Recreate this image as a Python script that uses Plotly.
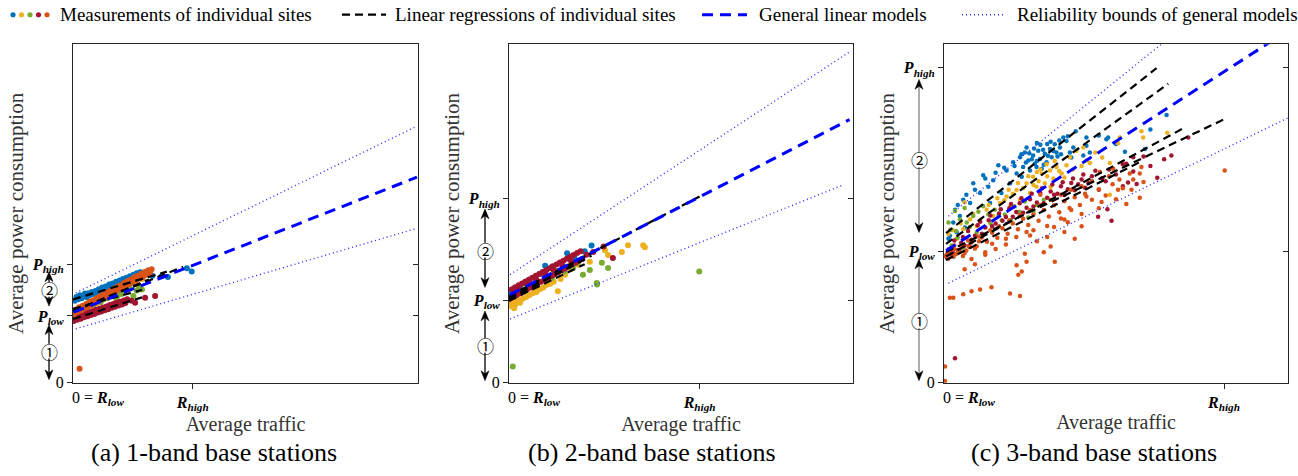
import plotly.graph_objects as go

W, H = 1298, 476
FONT = "Liberation Serif"
C_BLUE, C_ORANGE, C_YELLOW, C_GREEN, C_RED = "#0072BD", "#D95319", "#EDB120", "#77AC30", "#A2142F"

# ---------------- panel (a): 1-band base stations ----------------
a_blue_x = [0.5,1,1.5,2,2.5,3,3.5,4,4.5,5,5.5,6,6.5,7,7.5,8,8.5,9,9.5,10,10.5,11,11.5,12,12.5,13,13.5,14,14.5,15,15.5,16,16.5,17,17.5,18,18.5,19,19.5,20,21,22,23,25.7,27.5,33,34.4]
a_blue_y = [24.2,25.3,24.6,25.8,24.9,25.6,26.3,25.2,26.4,25.9,26.8,26.2,27.1,26.5,27.6,27.0,28.1,27.4,28.4,27.9,29.0,28.2,29.3,28.6,29.8,29.1,30.2,29.5,30.6,30.0,31.0,30.3,31.4,30.8,31.9,31.2,32.3,31.5,32.6,31.9,32.4,32.9,31.6,31.4,31.2,33.8,32.8]
a_yellow_x = [0.2,0.8,1.4,2,2.6,3.2,3.8,4.4,5,6,7,8,9,10,11,12.5,14,16,18,20]
a_yellow_y = [20.6,21.3,20.5,21.8,21.0,22.2,21.5,22.6,22.0,22.9,23.4,24.0,24.8,25.3,25.9,26.5,27.6,28.3,29.2,30.6]
a_green_x = [2,4,6,8,10,12.6,13,14,15.5,16.5,17.5,18.5,19.2,20]
a_green_y = [21.2,22.0,23.1,23.8,24.9,24.6,25.8,26.2,26.8,27.7,25.6,27.2,28.0,27.5]
a_red_x = [0.2,0.7,1.2,1.7,2.2,2.7,3.2,3.7,4.2,4.7,5.2,5.7,6.2,6.7,7.2,7.7,8.2,8.7,9.2,9.7,10.2,10.7,11.2,11.7,12.2,12.7,13.2,13.7,14.2,14.7,15.2,15.7,17,18,20.9,23.8]
a_red_y = [18.2,19.4,18.6,19.8,18.9,20.1,19.3,20.5,19.6,20.8,20.0,21.1,20.3,21.5,20.7,21.8,21.0,22.2,21.4,22.5,21.7,22.9,22.1,23.2,22.4,23.6,22.8,23.9,23.1,24.3,23.5,24.6,24.2,23.6,25.1,25.6]
a_orange_x = [0.3,0.8,1.3,1.8,2.3,2.8,3.3,3.8,4.3,4.8,5.3,5.8,6.3,6.8,7.3,7.8,8.3,8.8,9.3,9.8,10.3,10.8,11.3,11.8,12.3,12.8,13.3,13.8,14.3,14.8,15.3,15.8,16.3,16.8,17.3,17.8,18.3,18.8,19.3,19.8,20.3,20.8,21.3,21.8,22.3,22.8,5,10,15,20,1.9]
a_orange_y = [20.2,21.6,20.9,22.3,21.3,22.7,21.9,23.2,22.4,23.9,22.9,24.3,23.5,24.9,24.1,25.5,24.6,26.0,25.2,26.6,25.8,27.1,26.3,27.7,26.9,28.3,27.5,28.8,28.0,29.4,28.6,30.0,29.1,30.5,29.7,31.1,30.3,31.6,30.8,32.2,31.3,32.7,31.9,33.2,32.4,33.5,23.5,26.2,29.0,31.8,4.1]
a_fit_x0 = [0, 0, 0, 0, 0]
a_fit_y0 = [24.6, 21.0, 21.8, 18.8, 21.2]
a_fit_x1 = [27.2, 22.0, 20.0, 20.0, 31.9]
a_fit_y1 = [32.8, 30.5, 27.4, 25.2, 34.2]
a_gen_x, a_gen_y = [0.2, 99.7], [20.8, 60.7]
a_up_x, a_up_y = [0.8, 99.7], [26.5, 75.8]
a_lo_x, a_lo_y = [0.8, 99.7], [15.9, 45.6]
a_rhigh = 34.7
a_yticks = [0, 19.7, 34.9]

# ---------------- panel (b): 2-band base stations ----------------
b_blue_x = [0.5,1.5,3.2,6,9,12.5,14,16.9,19,22,24,4.5,10.5]
b_blue_y = [26.8,27.8,28.4,30.5,32.2,34.2,33.0,38.2,37.0,38.8,40.5,29.4,34.5]
b_yellow_x = [0.2,0.7,1.2,1.8,2.5,3.2,4,5,6,7,8,9,10,11,12,13,14.2,15,16.3,18,20,23.5,27.9,28.8,32.8,34.6,39,39.5,0.5,1.5]
b_yellow_y = [23.2,22.6,23.9,23.0,24.4,23.6,24.8,25.3,25.9,26.5,26.8,27.6,28.1,28.9,29.2,29.8,27.0,30.6,31.9,33.5,34.8,35.7,39.1,37.7,38.6,40.6,40.6,40.0,24.4,22.0]
b_green_x = [1.1,2.6,5,8,11,14,16,18.6,21.5,23.5,25.5,27,28.8,25.6,55.3,20,12.5]
b_green_y = [4.8,27.5,27.6,29.3,31.5,33.0,32.8,33.9,31.9,33.3,29.4,35.4,33.9,29.0,32.8,35.5,31.0]
b_red_x = [0.3,0.8,1.3,1.8,2.3,2.8,3.3,3.8,4.3,4.8,5.3,5.8,6.3,6.8,7.3,7.8,8.3,8.8,9.3,9.8,10.3,10.8,11.3,11.8,12.3,12.8,13.3,13.8,14.3,14.8,15.3,15.8,16.3,16.8,17.3,17.8,18.3,18.8,19.3,19.8,20.3,20.8,21.3,22.5,24.5,30.2,27.5,3,8,13,18,5.5,10.5,15.5]
b_red_y = [24.8,27.6,25.3,28.2,25.9,28.8,26.4,29.3,27.0,29.9,27.6,30.4,28.1,31.0,28.7,31.6,29.2,32.1,29.8,32.7,30.4,33.2,30.9,33.8,31.5,34.4,32.0,34.9,32.6,35.5,33.2,36.0,33.7,36.6,34.3,37.2,34.9,37.7,35.4,38.3,36.0,38.8,36.5,37.8,38.6,36.8,40.2,27.6,30.4,33.2,36.0,29.0,31.8,34.6]
b_fit_x0 = [0, 0, 0, 0]
b_fit_y0 = [25.6, 24.2, 25.0, 24.6]
b_fit_x1 = [55.4, 22.0, 28.0, 24.0]
b_fit_y1 = [55.0, 35.0, 40.5, 37.5]
b_gen_x, b_gen_y = [0.3, 99.0], [26.0, 77.7]
b_up_x, b_up_y = [0.3, 99.0], [31.9, 97.7]
b_lo_x, b_lo_y = [0.3, 97.1], [18.8, 58.4]
b_rhigh = 55.4
b_yticks = [0, 24.4, 54.3]

# ---------------- panel (c): 3-band base stations ----------------
c_blue_x = [1.7,2.7,3.2,4.6,5.6,7.6,8.5,10.5,11.4,12.9,14.3,15.8,16.7,18.2,19.2,20.1,21.1,22.1,23.0,23.5,24.5,25.0,25.9,26.4,27.4,27.9,28.4,29.3,29.8,30.8,31.3,32.2,32.7,33.7,34.7,35.6,36.6,37.6,24.0,26.9,22.6,13.4,41.4,47.7,47.2,41.4,52.6,58.4,64.7,40.5,42.4,1.3,3.7,6.1,38.3,25.5,27,28.8,30.2,31.8,26.2,24.8,29,33,23.8,28,31,
            4,6.5,9,12,15,17.5,20.5,22.5,33.5,36,30,27,34,37,45,50,60]
c_blue_y = [43.4,47.3,51.1,49.2,54.0,53.1,58.9,56.0,61.3,57.9,59.8,64.2,56.0,62.7,58.9,65.1,61.8,66.6,63.7,68.0,65.6,62.7,67.1,64.7,68.5,66.1,63.2,67.6,65.1,69.0,66.6,70.4,68.0,69.5,72.4,71.4,68.0,69.5,69.5,63.7,60.8,53.1,72.4,72.4,71.9,70.0,68.2,69.0,79.1,67.1,68.0,42.5,44.4,45.8,74.3,66.0,65.5,68.8,67.0,68.4,69.2,67.8,64.4,66.8,65.0,70.3,71.2,
            52.5,55.5,57.0,60.3,62.0,63.5,64.0,67.5,71.5,72.8,70.5,70.8,67.5,66.5,73.0,70.5,74.8]
c_yellow_x = [1.3,3.7,5.6,7.6,9.5,6.0,3.2,12.4,14.3,16.3,18.2,19.2,21.1,22.1,24.0,25.0,25.9,26.9,28.4,29.3,30.8,31.8,32.7,34.2,35.6,36.6,38.5,40.5,51.1,57.4,57.9,64.9,50.6,48.2,41.4,48.2,42.4,27.5,30,33.5,26,23,20,17.5,31,35,28,
              2.5,4.8,8.5,10.5,13,15.5,18.8,21.5,24.5,27,29.8,32.2,37.5,40,44,46]
c_yellow_y = [43.9,42.5,45.4,48.3,46.3,53.3,50.7,51.1,49.2,53.1,55.0,52.1,56.9,54.0,58.9,56.0,60.8,57.9,61.8,58.9,62.7,60.3,63.7,61.8,64.2,66.6,68.5,69.5,72.4,74.3,72.4,73.8,70.7,64.9,65.6,55.5,64.9,59.5,61.0,62.5,58.4,57.5,55.8,53.9,57.8,60.6,63.0,
              45.0,47.0,49.8,48.0,52.5,54.5,57.0,59.0,61.0,62.2,64.5,65.5,63.0,64.0,68.0,66.5]
c_green_x = [1.3,3.2,4.6,6.0,6.6,8.5,11.4,12.9,14.8,15.8,17.7,5.6,9.5,19.5,22,24.5,27,2.2,4.0,7.5,10,13.5,16.8,20.5,23.5,26,29,3.5,1.8]
c_green_y = [47.3,50.7,48.3,51.6,47.3,49.2,52.1,49.7,51.1,49.2,49.7,39.6,44.4,47.8,50.5,48.8,52.5,40.5,42.8,46.0,50.5,47.0,48.0,52.0,53.5,50.5,54.0,44.8,45.2]
c_red_x = [1.5,3,5,7,9,10.5,12,13.5,15,16.5,18,19.5,21,22.5,24,25.5,27,28.5,30,31.5,33,34.5,36,37.5,39,40.5,42,44,46,48,50,52,55,58,71.0,66.1,48.7,44.8,47.5,53.5,56.0,55.0,53.0,3.2,20,26,32,38,6,8,11,14,17,23,29,35,41,47,2,4,0.8,2.6,4.5,7.5,
           5.5,9.8,13,16,19,22,25,28,31,34,37,40,43,60,62,64,45,52]
c_red_y = [39.5,42.0,41.3,44.8,43.4,47.5,45.8,49.4,47.0,51.2,48.9,52.8,50.4,54.5,51.7,55.8,53.2,57.4,54.6,58.5,55.8,59.2,57.1,60.3,58.6,61.5,59.0,62.6,60.4,63.0,61.5,64.5,62.4,66.8,72.4,67.1,47.8,49.0,51.2,59.1,58.7,66.6,64.7,7.2,49.0,52.0,55.5,56.8,40.5,42.2,44.0,46.2,47.8,50.2,53.0,55.4,57.6,59.5,37.8,39.2,37.0,38.4,38.9,40.1,
           43.0,46.5,48.0,50.0,51.5,53.0,54.2,56.0,56.5,58.0,59.0,60.0,61.0,64.0,60.5,66.0,57.0,58.0]
c_orange_x = [0.5,2,3.5,5,6.5,8,9.5,11,12.5,14,15.5,17,18.5,20,21.5,23,24.5,26,27.5,29,30.5,32,33.5,35,36.5,38,39.5,41,43,45,47,49,52,55,58,25,30,35,18,12,28,40,45,50,53,
              81.6,1.7,2.7,5.6,8.0,10.5,13.8,19.2,22.1,21.1,22.6,24.0,21.6,23.5,32.2,0.3,0.3,49.2,54.0,56.9,57.4,50.6,54.5,56.9,45.8,45.3,41.4,32,35,38,30,27,34,40,36,26,31,29,37,
              1.2,2.8,4.2,6,7.2,9,10.2,1.0,3.0,5.5,
              3,7,10,13.5,16,19,22,25,28,31,34,37,40,43,48,51,8,12,15,18,21,24,6,9,14]
c_orange_y = [37.5,38.8,38.0,40.2,39.0,41.4,40.3,42.9,41.6,44.3,42.8,45.6,44.0,47.0,45.3,48.4,46.6,49.7,47.8,51.0,49.1,52.4,50.3,53.6,51.6,54.8,52.5,55.8,54.0,57.1,55.3,58.6,57.4,60.0,59.3,43.5,46.3,48.2,40.8,38.5,55.5,49.8,51.5,54.2,52.8,
              62.7,25.1,25.1,26.1,27.0,27.5,28.2,26.3,25.6,34.7,32.8,35.7,31.9,38.1,35.7,4.8,0.5,63.2,61.8,61.8,63.7,57.0,57.0,54.6,53.4,62.2,55.0,46.0,44.5,42.5,43.0,41.8,48.5,46.2,47.4,45.0,40.2,38.5,51.0,
              36.6,37.2,38.9,38.3,40.4,39.6,41.8,38.2,39.5,37.4,
              40.5,42.0,43.2,45.0,46.2,48.0,49.5,51.0,52.5,54.0,55.5,57.0,58.0,59.5,61.0,60.0,36.5,37.8,39.5,42.5,43.0,44.5,33.5,35.0,41.0]
c_fit_x0 = [0.6, 0.6, 0.6, 0.6, 0.6]
c_fit_y0 = [44.2, 41.0, 38.6, 37.3, 36.2]
c_fit_x1 = [61.8, 65.2, 81.6, 69.3, 57.4]
c_fit_y1 = [92.9, 88.3, 77.9, 75.0, 65.4]
c_gen_x, c_gen_y = [0.6, 100.0], [39.0, 104.0]
c_up_x, c_up_y = [1.3, 100.0], [49.2, 130.2]
c_lo_x, c_lo_y = [1.3, 100.0], [29.4, 78.2]
c_rhigh = 81.4
c_yticks = [0, 38.8, 93.0]

P_LOW = "<b><i>P</i></b><sub><b><i>low</i></b></sub>"
P_HIGH = "<b><i>P</i></b><sub><b><i>high</i></b></sub>"
R_LOW = "0 = <b><i>R</i></b><sub><b><i>low</i></b></sub>"
R_HIGH = "<b><i>R</i></b><sub><b><i>high</i></b></sub>"

panels = [
    dict(sites=[(a_blue_x, a_blue_y, C_BLUE), (a_yellow_x, a_yellow_y, C_YELLOW), (a_green_x, a_green_y, C_GREEN),
                (a_red_x, a_red_y, C_RED), (a_orange_x, a_orange_y, C_ORANGE)],
         fits=(a_fit_x0, a_fit_y0, a_fit_x1, a_fit_y1), gen=(a_gen_x, a_gen_y), up=(a_up_x, a_up_y), lo=(a_lo_x, a_lo_y),
         rh=a_rhigh, yt=a_yticks, px=(73, 418), ms=6),
    dict(sites=[(b_blue_x, b_blue_y, C_BLUE), (b_yellow_x, b_yellow_y, C_YELLOW), (b_green_x, b_green_y, C_GREEN),
                (b_red_x, b_red_y, C_RED)],
         fits=(b_fit_x0, b_fit_y0, b_fit_x1, b_fit_y1), gen=(b_gen_x, b_gen_y), up=(b_up_x, b_up_y), lo=(b_lo_x, b_lo_y),
         rh=b_rhigh, yt=b_yticks, px=(509, 853), ms=6),
    dict(sites=[(c_blue_x, c_blue_y, C_BLUE), (c_yellow_x, c_yellow_y, C_YELLOW), (c_green_x, c_green_y, C_GREEN),
                (c_red_x, c_red_y, C_RED), (c_orange_x, c_orange_y, C_ORANGE)],
         fits=(c_fit_x0, c_fit_y0, c_fit_x1, c_fit_y1), gen=(c_gen_x, c_gen_y), up=(c_up_x, c_up_y), lo=(c_lo_x, c_lo_y),
         rh=c_rhigh, yt=c_yticks, px=(944, 1288), ms=4.5),
]

def PX(x):
    return x / W

def PY(y):
    return 1 - y / H

def head_path(x, y, direction):
    """Filled arrowhead (concave back) with tip at pixel (x, y); direction -1 = up, +1 = down."""
    L, B, hw = 10, 7, 4
    pts = [(x, y), (x - hw, y - direction * L), (x, y - direction * B), (x + hw, y - direction * L)]
    return "M " + " L ".join(f"{PX(px):.5f},{PY(py):.5f}" for px, py in pts) + " Z"

fig = go.Figure()
AX_TOP, AX_BOT = 45, 390
shapes, annos = [], []
for k, p in enumerate(panels, start=1):
    xa = "x" if k == 1 else f"x{k}"
    ya = "y" if k == 1 else f"y{k}"
    yr = f"y{k + 3}"   # overlay axis carrying the right-hand (inside) ticks
    for xs, ys, col in p["sites"]:
        fig.add_trace(go.Scatter(x=xs, y=ys, mode="markers", xaxis=xa, yaxis=ya, showlegend=False,
                                 hoverinfo="skip", marker=dict(size=p["ms"], color=col, line=dict(width=0))))
    for x0, y0, x1, y1 in zip(*p["fits"]):
        fig.add_trace(go.Scatter(x=[x0, x1], y=[y0, y1], mode="lines", xaxis=xa, yaxis=ya, showlegend=False,
                                 hoverinfo="skip", line=dict(color="black", width=2.2, dash="8px,5px")))
    fig.add_trace(go.Scatter(x=p["gen"][0], y=p["gen"][1], mode="lines", xaxis=xa, yaxis=yr, showlegend=False,
                             hoverinfo="skip", line=dict(color="#0000FF", width=3, dash="11px,7px")))
    for key in ("up", "lo"):
        fig.add_trace(go.Scatter(x=p[key][0], y=p[key][1], mode="lines", xaxis=xa, yaxis=yr, showlegend=False,
                                 hoverinfo="skip", line=dict(color="#2B2BFF", width=1.4, dash="1px,3px")))
    x0p, x1p = p["px"]
    axis_common = dict(range=[0, 100], showline=True, linecolor="#262626", linewidth=1, mirror=True,
                       ticks="outside", ticklen=5, tickcolor="#262626", showgrid=False, zeroline=False,
                       tickfont=dict(family=FONT, size=16, color="black"), fixedrange=True)
    fig.update_layout(**{
        ("xaxis" if k == 1 else f"xaxis{k}"): dict(
            axis_common, domain=[PX(x0p), PX(x1p)], anchor=ya, tickmode="array",
            tickvals=[p["rh"]], ticktext=[R_HIGH],
            title=dict(text="Average traffic", font=dict(family=FONT, size=20, color="#333333"), standoff=2)),
        ("yaxis" if k == 1 else f"yaxis{k}"): dict(
            axis_common, domain=[PY(AX_BOT), PY(AX_TOP)], anchor=xa, tickmode="array",
            tickvals=p["yt"], ticktext=["0", P_LOW, P_HIGH],
            title=dict(text="Average power consumption", font=dict(family=FONT, size=21, color="#333333"), standoff=2)),
        f"yaxis{k + 3}": dict(range=[0, 100], overlaying=ya, anchor=xa, side="right", tickmode="array",
                              tickvals=p["yt"][1:], ticks="inside", ticklen=5, tickcolor="#262626",
                              showticklabels=False, showline=False, showgrid=False, zeroline=False, fixedrange=True),
    })
    annos.append(dict(text=R_LOW, x=0, xref=xa, y=PY(406), yref="paper", xanchor="left", yanchor="middle",
                      xshift=-3, showarrow=False, font=dict(family=FONT, size=16, color="black")))

# double arrows with circled region numbers: (x, top2, bot2, lab2, top1, bot1, lab1, line colour)
arrows = [
    (49, 277, 312, 295, 331, 387, 358, "black"),
    (485, 213, 293, 255, 317, 388, 352, "black"),
    (919, 81, 237, 163, 264, 388, 327, "#808080"),
]
R_C = 7.5
for x, t2, b2, l2, t1, b1, l1, lc in arrows:
    for top, bot, lab, txt in ((t2, b2, l2, "②"), (t1, b1, l1, "①")):
        shapes.append(dict(type="line", xref="paper", yref="paper", x0=PX(x), x1=PX(x), y0=PY(top + 5), y1=PY(bot - 5),
                           line=dict(color=lc, width=1.3)))
        shapes.append(dict(type="path", xref="paper", yref="paper", path=head_path(x, top, -1),
                           fillcolor="black", line=dict(color="black", width=0.5)))
        shapes.append(dict(type="path", xref="paper", yref="paper", path=head_path(x, bot, 1),
                           fillcolor="black", line=dict(color="black", width=0.5)))
        shapes.append(dict(type="circle", xref="paper", yref="paper", x0=PX(x - R_C), x1=PX(x + R_C),
                           y0=PY(lab + R_C), y1=PY(lab - R_C), fillcolor="white", line=dict(width=0)))
        annos.append(dict(text=txt, x=PX(x), y=PY(lab), xref="paper", yref="paper", showarrow=False,
                          xanchor="center", yanchor="middle",
                          font=dict(family="Noto Sans CJK JP", size=17, color="black")))

# captions
for cx, txt in ((214, "(a) 1-band base stations"), (652, "(b) 2-band base stations"), (1094, "(c) 3-band base stations")):
    annos.append(dict(text=txt, x=PX(cx), y=PY(461), xref="paper", yref="paper", showarrow=False,
                      xanchor="center", yanchor="middle", font=dict(family=FONT, size=26, color="black")))

# manual legend (top)
LEG_Y = 15
for i, col in enumerate([C_BLUE, C_YELLOW, C_GREEN, C_RED, C_ORANGE]):
    cx = 13 + i * 8.5
    shapes.append(dict(type="circle", xref="paper", yref="paper", x0=PX(cx - 2.6), x1=PX(cx + 2.6),
                       y0=PY(LEG_Y + 2.6), y1=PY(LEG_Y - 2.6), fillcolor=col, line=dict(width=0)))
shapes.append(dict(type="line", xref="paper", yref="paper", x0=PX(342), x1=PX(386), y0=PY(LEG_Y), y1=PY(LEG_Y),
                   line=dict(color="black", width=2.2, dash="8px,5px")))
shapes.append(dict(type="line", xref="paper", yref="paper", x0=PX(702), x1=PX(747), y0=PY(LEG_Y), y1=PY(LEG_Y),
                   line=dict(color="#0000FF", width=3, dash="11px,7px")))
shapes.append(dict(type="line", xref="paper", yref="paper", x0=PX(962), x1=PX(1005), y0=PY(LEG_Y), y1=PY(LEG_Y),
                   line=dict(color="#2B2BFF", width=1.4, dash="1px,3px")))
for lx, txt in ((58, "Measurements of individual sites"), (393, "Linear regressions of individual sites"),
                (757, "General linear models"), (1015, "Reliability bounds of general models")):
    annos.append(dict(text=txt, x=PX(lx), y=PY(LEG_Y), xref="paper", yref="paper", showarrow=False,
                      xanchor="left", yanchor="middle", font=dict(family=FONT, size=19, color="black")))

fig.update_layout(width=W, height=H, margin=dict(l=0, r=0, t=0, b=0), paper_bgcolor="white",
                  plot_bgcolor="white", font=dict(family=FONT), shapes=shapes, annotations=annos, showlegend=False)
fig.write_html("out.html")
